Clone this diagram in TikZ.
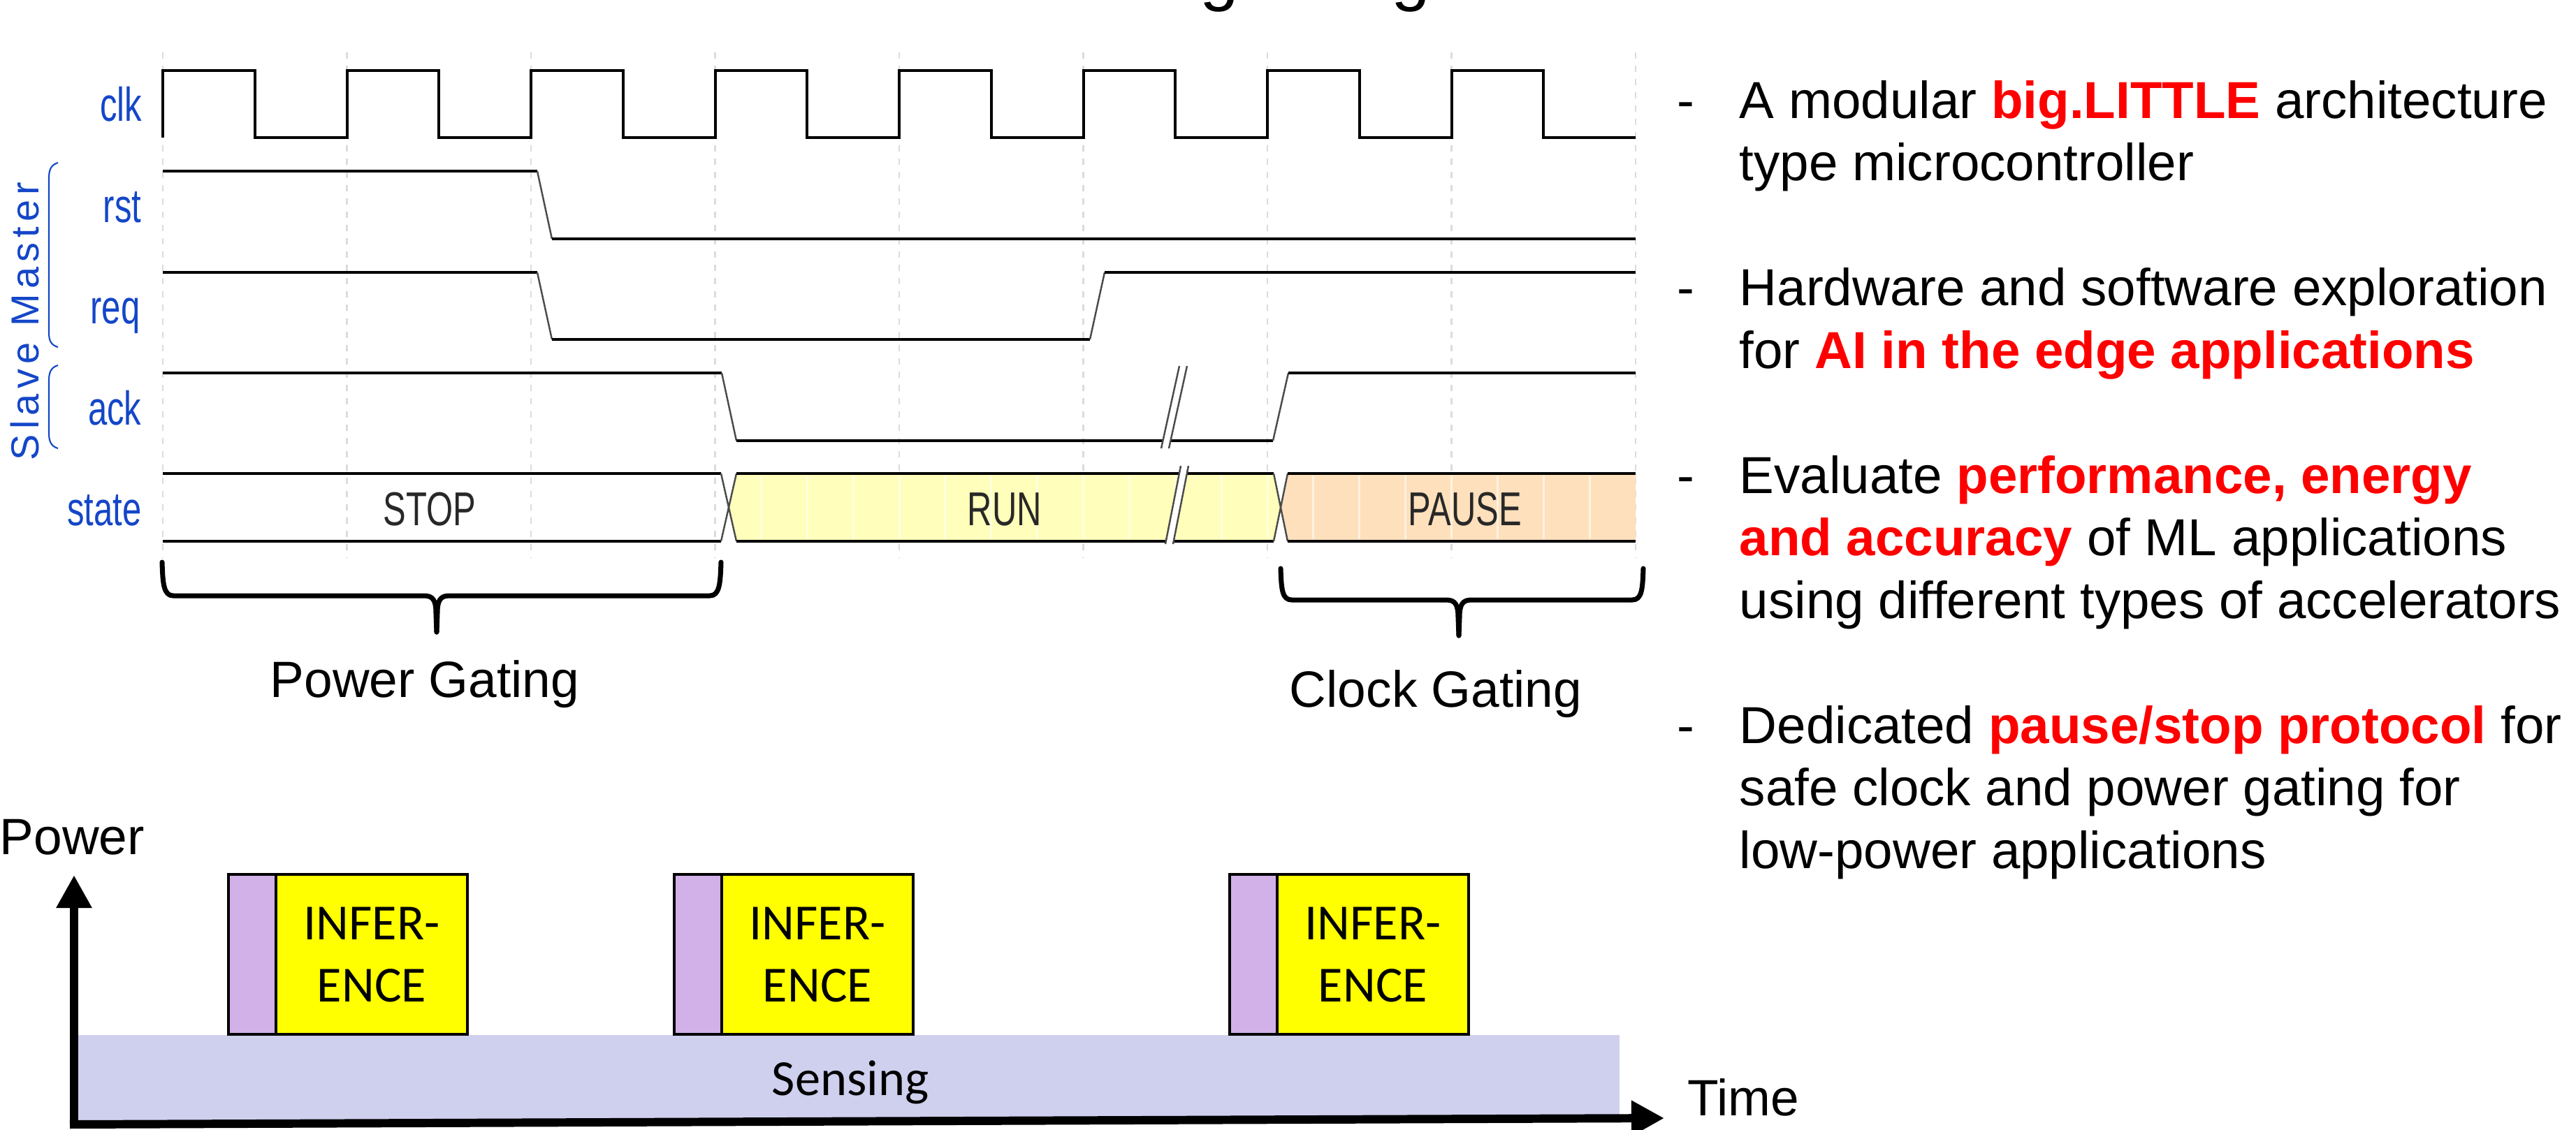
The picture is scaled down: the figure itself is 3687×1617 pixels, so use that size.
\documentclass[tikz,border=0pt]{standalone}
\usepackage{fontspec}
\setmainfont{Liberation Sans}
\newfontfamily\calfont{Carlito}
\usetikzlibrary{arrows.meta}
\definecolor{lblblue}{RGB}{20,70,200}
\definecolor{gridgray}{RGB}{220,220,220}
\definecolor{runfill}{RGB}{255,255,187}
\definecolor{pausefill}{RGB}{255,224,188}
\definecolor{sensefill}{RGB}{207,208,238}
\definecolor{prefill}{RGB}{210,176,232}
\definecolor{inffill}{RGB}{255,255,0}
\definecolor{hlred}{RGB}{255,0,0}
\definecolor{transgray}{RGB}{75,75,75}
\definecolor{stategray}{RGB}{40,40,40}
\newcommand{\condtext}[1]{\scalebox{0.72}[1]{#1}}
\newcommand{\hlt}[1]{\textcolor{hlred}{\bfseries #1}}
\begin{document}
\begin{tikzpicture}[x=0.01cm,y=-0.01cm,
  sigline/.style={line width=1.14pt, black},
  transl/.style={line width=0.7pt, draw=transgray},
  gridl/.style={draw=gridgray, line width=0.8pt, dash pattern=on 2.56pt off 2.85pt},
  stripel/.style={draw=white, opacity=0.55, line width=0.85pt},
  lbl/.style={text=lblblue, anchor=base east, inner sep=0pt, font=\fontsize{19.35pt}{23pt}\selectfont},
  stlbl/.style={text=stategray, anchor=base, inner sep=0pt, font=\fontsize{19.35pt}{23pt}\selectfont},
  grpbrace/.style={draw=lblblue, line width=0.6pt},
  gatebrace/.style={line width=2pt, line cap=round, line join=round},
  gatelbl/.style={anchor=base, inner sep=0pt, font=\fontsize{20.77pt}{25pt}\selectfont},
  bultxt/.style={anchor=base west, inner sep=0pt, font=\fontsize{21.2pt}{25pt}\selectfont},
  axisl/.style={line width=3.4pt, -{Triangle[length=0.47cm,width=0.48cm]}},
  infbox/.style={draw, line width=1.28pt, fill=inffill, minimum width=2.74cm, minimum height=2.29cm, inner sep=0pt, outer sep=0pt, align=center, font=\calfont\fontsize{20.6pt}{25.3pt}\selectfont},
  prebox/.style={draw, line width=1.28pt, fill=prefill, minimum width=0.68cm, minimum height=2.29cm, inner sep=0pt, outer sep=0pt},
  breakfill/.style={fill=white},
]
\useasboundingbox (0,0) rectangle (3687,1617);
\clip (0,0) rectangle (3687,1617);
\fill[white] (0,0) rectangle (3687,1617);

% clipped title fragments
\node[anchor=base, inner sep=0pt, font=\fontsize{28.5pt}{30pt}\selectfont] (tg1) at (1745,-4) {g};
\node[anchor=base, inner sep=0pt, font=\fontsize{28.5pt}{30pt}\selectfont] (tg2) at (2019,-4) {g};

% grid
\foreach \k in {0,...,8} \draw[gridl] ({233+263.5*\k},75) -- ({233+263.5*\k},798);

% clock
\draw[sigline] (233,197) \foreach \k in {0,...,7} { -- ({233+263.5*\k},101) -- ({364.75+263.5*\k},101) -- ({364.75+263.5*\k},197) -- ({496.5+263.5*\k},197) };

% rst
\draw[sigline] (233,245) -- (769,245);
\draw[transl] (769,245) -- (790,342);
\draw[sigline] (790,342) -- (2341,342);
% req
\draw[sigline] (233,390) -- (769,390);
\draw[transl] (769,390) -- (790,486);
\draw[sigline] (790,486) -- (1560,486);
\draw[transl] (1560,486) -- (1581,390);
\draw[sigline] (1581,390) -- (2341,390);
% ack
\draw[sigline] (233,534) -- (1033,534);
\draw[transl] (1033,534) -- (1054,631);
\draw[sigline] (1054,631) -- (1822,631);
\draw[transl] (1822,631) -- (1844,534);
\draw[sigline] (1844,534) -- (2341,534);
\fill[breakfill] (1662,642) -- (1688,524) -- (1699,524) -- (1673,642) -- cycle;
\draw[transl] (1662,642) -- (1688,524);
\draw[transl] (1673,642) -- (1699,524);

% state bus
\fill[runfill] (1043,726.5) -- (1054,678) -- (1823,678) -- (1833,726.5) -- (1823,775) -- (1054,775) -- cycle;
\fill[pausefill] (1833,726.5) -- (1843,678) -- (2341,678) -- (2341,775) -- (1843,775) -- cycle;
\foreach \m in {13,...,24} \draw[stripel] ({233+65.875*\m},681) -- ({233+65.875*\m},772);
\foreach \m in {25,...,31} \draw[stripel] ({233+65.875*\m},681) -- ({233+65.875*\m},772);
\draw[sigline] (233,678) -- (1032,678);
\draw[sigline] (233,775) -- (1032,775);
\draw[transl] (1032,678) -- (1054,775);
\draw[transl] (1054,678) -- (1032,775);
\draw[sigline] (1054,678) -- (1823,678);
\draw[sigline] (1054,775) -- (1823,775);
\draw[transl] (1823,678) -- (1843,775);
\draw[transl] (1843,678) -- (1823,775);
\draw[sigline] (1843,678) -- (2341,678);
\draw[sigline] (1843,775) -- (2341,775);
\fill[breakfill] (1668,779) -- (1690,667) -- (1701,667) -- (1679,779) -- cycle;
\draw[transl] (1668,779) -- (1690,667);
\draw[transl] (1679,779) -- (1701,667);

\node[stlbl] (sstop) at (615,752) {\condtext{STOP}};
\node[stlbl] (srun) at (1438,752) {\condtext{RUN}};
\node[stlbl] (spause) at (2097,752) {\condtext{PAUSE}};

% signal labels
\node[lbl] (lclk) at (204,173) {\condtext{clk}};
\node[lbl] (lrst) at (203,318) {\condtext{rst}};
\node[lbl] (lreq) at (201,463) {\condtext{req}};
\node[lbl] (lack) at (203,608) {\condtext{ack}};
\node[lbl] (lstate) at (203,752) {\condtext{state}};

% group braces
\draw[grpbrace] (83,233) .. controls (73,236) and (70,243) .. (70,255) -- (70,476) .. controls (70,488) and (73,494) .. (83,497);
\draw[grpbrace] (83,523) .. controls (73,526) and (70,533) .. (70,545) -- (70,620) .. controls (70,632) and (73,639) .. (83,642);
\node[rotate=90, anchor=base, inner sep=0pt, text=lblblue, font=\fontsize{15.9pt}{18pt}\selectfont\addfontfeature{LetterSpace=13}] (slm) at (55,460) {Slave Master};

% gating braces
\draw[gatebrace] (232,805) .. controls (233,835) and (234,853) .. (248,853) -- (607,853) .. controls (620,853) and (624,860) .. (624,878) -- (625,905);
\draw[gatebrace] (1032,805) .. controls (1031,835) and (1030,853) .. (1016,853) -- (643,853) .. controls (630,853) and (626,860) .. (626,878) -- (625,905);
\node[gatelbl] (pg) at (608,998) {Power Gating};

\draw[gatebrace] (1833,814) .. controls (1834,844) and (1835,859) .. (1849,859) -- (2070,859) .. controls (2083,859) and (2087,866) .. (2087,884) -- (2088,910);
\draw[gatebrace] (2352,814) .. controls (2351,844) and (2350,859) .. (2336,859) -- (2106,859) .. controls (2093,859) and (2089,866) .. (2089,884) -- (2088,910);
\node[gatelbl] (cg) at (2055,1012) {Clock Gating};

% bullet list
\node[bultxt] (b1) at (2400,169) {-};
\node[bultxt] (t1) at (2489,169) {A modular \hlt{big.LITTLE} architecture};
\node[bultxt] (t2) at (2489,258.5) {type microcontroller};
\node[bultxt] (b2) at (2400,437.5) {-};
\node[bultxt] (t3) at (2489,437.5) {Hardware and software exploration};
\node[bultxt] (t4) at (2489,527) {for \hlt{AI in the edge applications}};
\node[bultxt] (b3) at (2400,706) {-};
\node[bultxt] (t5) at (2489,706) {Evaluate \hlt{performance, energy}};
\node[bultxt] (t6) at (2489,795.5) {\hlt{and accuracy} of ML applications};
\node[bultxt] (t7) at (2489,885) {using different types of accelerators};
\node[bultxt] (b4) at (2400,1064) {-};
\node[bultxt] (t8) at (2489,1064) {Dedicated \hlt{pause/stop protocol} for};
\node[bultxt] (t9) at (2489,1153.5) {safe clock and power gating for};
\node[bultxt] (t10) at (2489,1243) {low-power applications};

% power chart
\node[fill=sensefill, minimum width=22.05cm, minimum height=1.24cm, inner sep=0pt, outer sep=0pt] (band) at (1214.5,1544) {};
\node[anchor=base, inner sep=0pt, font=\calfont\fontsize{20.6pt}{25pt}\selectfont] (sens) at (1217,1568) {Sensing};

\node[infbox] (inf1) at (532,1366.5) {INFER-\\ENCE};
\node[prebox, anchor=east] (pre1) at (inf1.west) {};
\node[infbox] (inf2) at (1170,1366.5) {INFER-\\ENCE};
\node[prebox, anchor=east] (pre2) at (inf2.west) {};
\node[infbox] (inf3) at (1965,1366.5) {INFER-\\ENCE};
\node[prebox, anchor=east] (pre3) at (inf3.west) {};

\coordinate (yb) at (106,1614);
\coordinate (yt) at (106,1253);
\coordinate (xb) at (100,1610);
\coordinate (xt) at (2382,1601);
\draw[axisl] (yb) -- (yt);
\draw[axisl] (xb) -- (xt);

\node[anchor=base west, inner sep=0pt, font=\fontsize{20.77pt}{25pt}\selectfont] (power) at (-1,1223) {Power};
\node[anchor=base west, inner sep=0pt, font=\fontsize{20.77pt}{25pt}\selectfont] (time) at (2415,1597) {Time};
\end{tikzpicture}
\end{document}
